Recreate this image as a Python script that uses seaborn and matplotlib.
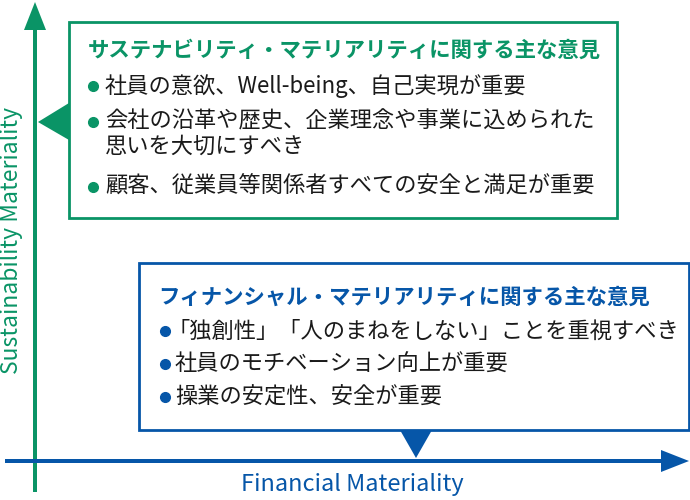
import matplotlib
matplotlib.use("Agg")
import matplotlib.pyplot as plt
import seaborn as sns
from matplotlib.patches import Rectangle, Polygon, FancyArrow

# text content
sus_title = "サステナビリティ・マテリアリティに関する主な意見"
sus_items = [
    "社員の意欲、Well-being、自己実現が重要",
    "会社の沿革や歴史、企業理念や事業に込められた\n思いを大切にすべき",
    "顧客、従業員等関係者すべての安全と満足が重要",
]
fin_title = "フィナンシャル・マテリアリティに関する主な意見"
fin_items = [
    "「独創性」「人のまねをしない」ことを重視すべき",
    "社員のモチベーション向上が重要",
    "操業の安定性、安全が重要",
]
y_label = "Sustainability Materiality"
x_label = "Financial Materiality"

GREEN = "#0a9466"
BLUE = "#0656a8"

sns.set_theme(style="white")
plt.rcParams['font.family'] = ['Noto Sans CJK JP', 'DejaVu Sans']

fig = plt.figure(figsize=(6.9, 5.0), dpi=100)
ax = fig.add_axes([0, 0, 1, 1])
ax.set_xlim(0, 690)
ax.set_ylim(500, 0)
ax.axis("off")

# axes arrows
ax.add_patch(FancyArrow(35, 492, 0, -490, width=4, head_width=22, head_length=28,
                        length_includes_head=True, color=GREEN, lw=0))
ax.add_patch(FancyArrow(5, 461, 684, 0, width=4, head_width=22, head_length=28,
                        length_includes_head=True, color=BLUE, lw=0))
ax.text(12, 240, y_label, rotation=90, ha="center", va="center",
        color=GREEN, fontsize=16.5)
ax.text(352, 484, x_label, ha="center", va="center", color=BLUE, fontsize=17)

# sustainability box
ax.add_patch(Rectangle((69, 22), 548, 196, fill=False, ec=GREEN, lw=2))
ax.add_patch(Polygon([(38, 122), (69, 103), (69, 140)], closed=True, color=GREEN, lw=0))
ax.text(88, 50, sus_title, ha="left", va="center", color=GREEN,
        fontsize=15.4, fontweight="bold")
sus_y = [86, 122, 187]
for y, item in zip(sus_y, sus_items):
    ax.plot(93, y, "o", color=GREEN, ms=7)
    ax.text(105, y - 12, item, ha="left", va="top", color="#1a1a1a",
            fontsize=16, linespacing=1.1)

# financial box
ax.add_patch(Rectangle((139, 263), 550, 167, fill=False, ec=BLUE, lw=2))
ax.add_patch(Polygon([(400, 430), (432, 430), (416, 458)], closed=True, color=BLUE, lw=0))
ax.text(158, 297, fin_title, ha="left", va="center", color=BLUE,
        fontsize=15.4, fontweight="bold")
fin_y = [331, 364, 397]
for y, item in zip(fin_y, fin_items):
    ax.plot(165, y, "o", color=BLUE, ms=7)
    # lines starting with a full-width bracket have blank space on the left
    x0 = 168 if item.startswith("「") else 175
    ax.text(x0, y, item, ha="left", va="center", color="#1a1a1a", fontsize=16)

fig.savefig("out.png", dpi=100)
